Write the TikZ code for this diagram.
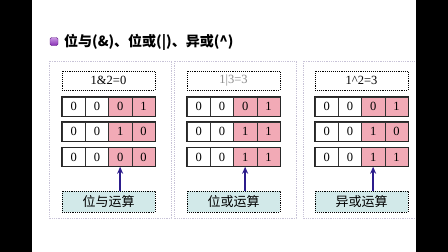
\documentclass[tikz,border=0pt]{standalone}
\usepackage{fontspec}
\setmainfont{Liberation Serif}
\newfontfamily\cjk{Noto Sans CJK SC}
\usetikzlibrary{calc,arrows.meta}
\definecolor{pinkc}{RGB}{242,170,182}
\definecolor{tealc}{RGB}{210,233,233}
\definecolor{arrc}{RGB}{44,28,140}
\definecolor{panelc}{RGB}{200,195,215}
\definecolor{bulc}{RGB}{150,50,200}
\tikzset{
  panel/.style={draw=panelc, densely dotted, line width=0.8pt},
  eqbox/.style={draw=black, densely dotted, line width=0.9pt, minimum width=93pt, minimum height=19pt, inner sep=0pt, font=\fontsize{12.5}{13}\selectfont},
  cell/.style={draw=black!80, line width=0.5pt, minimum width=23.25pt, minimum height=19pt, inner sep=0pt, font=\fontsize{12.5}{13}\selectfont},
  pcell/.style={cell, fill=pinkc},
  rowframe/.style={draw=black!85, line width=1.1pt},
  opbox/.style={draw=black, densely dotted, line width=0.9pt, fill=tealc, minimum width=93pt, minimum height=21pt, inner sep=0pt, font=\cjk\fontsize{13}{14}\selectfont},
  arr/.style={draw=arrc, line width=1.8pt, -{Stealth[length=7pt,width=6pt]}},
}
\begin{document}
\begin{tikzpicture}[x=1pt,y=-1pt]
\useasboundingbox (0,0) rectangle (448,252);
\fill[black] (0,0) rectangle (448,252);
\fill[white] (32,0) rectangle (416,252);
% title
\node[draw=bulc!70!black, line width=0.4pt, rounded corners=1.5pt, inner sep=0pt, minimum size=8pt, top color=bulc!50, bottom color=bulc!90!black] (bul) at (54,41.5) {};
\node[anchor=west, inner sep=0pt, font=\cjk\bfseries\fontsize{14}{15}\selectfont] (title) at (64,42) {位与(\&)、位或(|)、异或(\^{})};
% panels
\foreach \i/\px/\cx/\eq/\eqc/\op/\a/\b/\c/\d/\e/\f in {
  1/49/62/{1\&2=0}/black/位与运算/0/1/1/0/0/0,
  2/174/187/{1|3=3}/black!45/位或运算/0/1/1/1/1/1,
  3/303/315/{1\^{}2=3}/black/异或运算/0/1/1/0/1/1}{
  \draw[panel] (\px,61) rectangle ++(122,157);
  \node[eqbox, text=\eqc] (eq\i) at (\cx+46.5,80.5) {\eq};
  \foreach \r/\y/\u/\v in {1/106.5/\a/\b, 2/131.5/\c/\d, 3/157/\e/\f}{
    \node[cell] (p\i r\r c1) at (\cx+11.625,\y) {0};
    \node[cell] (p\i r\r c2) at (\cx+34.875,\y) {0};
    \node[pcell] (p\i r\r c3) at (\cx+58.125,\y) {\u};
    \node[pcell] (p\i r\r c4) at (\cx+81.375,\y) {\v};
    \draw[rowframe] (p\i r\r c1.north west) rectangle (p\i r\r c4.south east);
  }
  \node[opbox] (op\i) at (\cx+46.5,201.5) {\op};
  \draw[arr] (op\i.north -| p\i r3c3.south) -- (p\i r3c3.south);
}
\fill[black] (416,0) rectangle (448,252);
\end{tikzpicture}
\end{document}
